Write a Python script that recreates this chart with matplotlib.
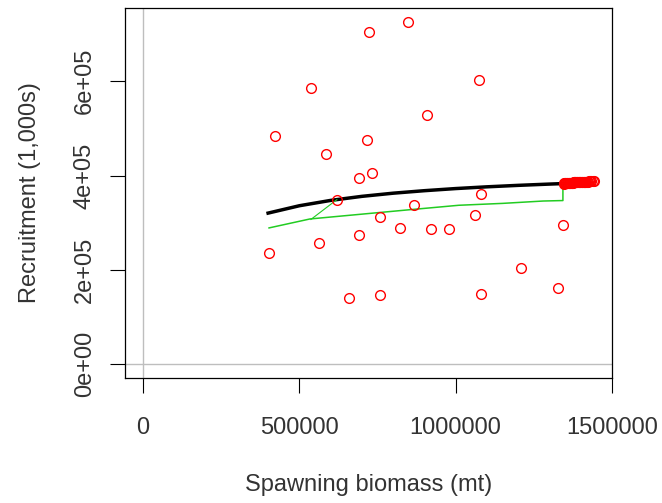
import matplotlib
matplotlib.use("Agg")
import matplotlib.pyplot as plt

plt.rcParams["font.family"] = ["Liberation Sans", "DejaVu Sans"]

# observed spawning biomass / recruitment pairs
ssb_obs = [403000, 422000, 537000, 563000, 585000, 620000, 659000, 691000,
           691000, 716000, 723000, 732000, 758000, 758000, 822000, 847000,
           867000, 908000, 921000, 979000, 1062000, 1075000, 1081000, 1081000,
           1209000, 1327000, 1343000]
rec_obs = [236000, 483000, 585000, 257000, 445000, 349000, 140000, 274000,
           394000, 475000, 704000, 406000, 313000, 147000, 289000, 726000,
           338000, 528000, 287000, 287000, 317000, 602000, 360000, 149000,
           204000, 162000, 296000]

# projected points near unfished biomass
ssb_proj = [1345000, 1347000, 1349000, 1351000, 1353000, 1355000, 1357000,
            1359000, 1361000, 1363000, 1365000, 1367000, 1369000, 1371000,
            1373000, 1375000, 1377000, 1379000, 1381000, 1383000, 1385000,
            1387000, 1389000, 1391000, 1393000, 1395000, 1397000, 1399000,
            1401000, 1403000, 1405000, 1407000, 1409000, 1411000, 1413000,
            1415000, 1418000, 1421000, 1424000, 1427000, 1430000, 1434000,
            1438000, 1442000]
rec_proj = [383000, 383200, 383400, 383600, 383800, 384000, 384100, 384200,
            384400, 384500, 384600, 384800, 384900, 385000, 385100, 385200,
            385300, 385400, 385500, 385600, 385700, 385800, 385900, 386000,
            386000, 386100, 386200, 386300, 386400, 386500, 386500, 386600,
            386700, 386800, 386900, 387000, 387100, 387200, 387300, 387400,
            387500, 387700, 387800, 388000]

# expected recruitment curve
ssb_curve = [400000, 500000, 600000, 700000, 800000, 900000, 1000000,
             1100000, 1200000, 1300000, 1345000]
rec_curve = [320400, 336000, 347300, 355900, 362600, 367900, 372400,
             376100, 379200, 381900, 383000]

# bias-adjusted line
ssb_adj = [403000, 534000, 860000, 1010000, 1150000, 1280000, 1343000, 1343000]
rec_adj = [289000, 308000, 328000, 337000, 341000, 346000, 347000, 378000]
ssb_spur = [537000, 620000]
rec_spur = [307000, 349000]

fig = plt.figure(figsize=(6.62, 5.03), dpi=100)
ax = fig.add_axes([125 / 662, 1 - 378 / 503, (612 - 125) / 662, (378 - 8) / 503])

ax.axvline(0, color="#BEBEBE", lw=1, zorder=0)
ax.axhline(0, color="#BEBEBE", lw=1, zorder=0)

ax.plot(ssb_obs, rec_obs, "o", mfc="none", mec="red", ms=7, mew=1.0, zorder=3)
ax.plot(ssb_proj, rec_proj, "o", mfc="none", mec="red", ms=7, mew=1.0, zorder=3)
ax.plot(ssb_curve, rec_curve, color="black", lw=2.5, zorder=2)
ax.plot(ssb_adj, rec_adj, color="#22CC22", lw=1.1, zorder=2)
ax.plot(ssb_spur, rec_spur, color="#22CC22", lw=0.8, zorder=2)

ax.set_xlim(-57700, 1499700)
ax.set_ylim(-29040, 755040)

ax.set_xticks([0, 500000, 1000000, 1500000])
ax.set_xticklabels(["0", "500000", "1000000", "1500000"])
ax.set_yticks([0, 200000, 400000, 600000])
ax.set_yticklabels(["0e+00", "2e+05", "4e+05", "6e+05"], rotation=90, va="center")

ax.tick_params(axis="both", direction="out", length=10.5, width=0.8,
               labelsize=17, colors="black", labelcolor="#333333")
ax.tick_params(axis="x", pad=17.5)
ax.tick_params(axis="y", pad=10.5)
for s in ax.spines.values():
    s.set_linewidth(0.9)

ax.set_xlabel("Spawning biomass (mt)", fontsize=17, color="#333333", labelpad=25.5)
ax.set_ylabel("Recruitment (1,000s)", fontsize=17, color="#333333", labelpad=23.5)

fig.savefig("out.png", dpi=100, facecolor="white")
